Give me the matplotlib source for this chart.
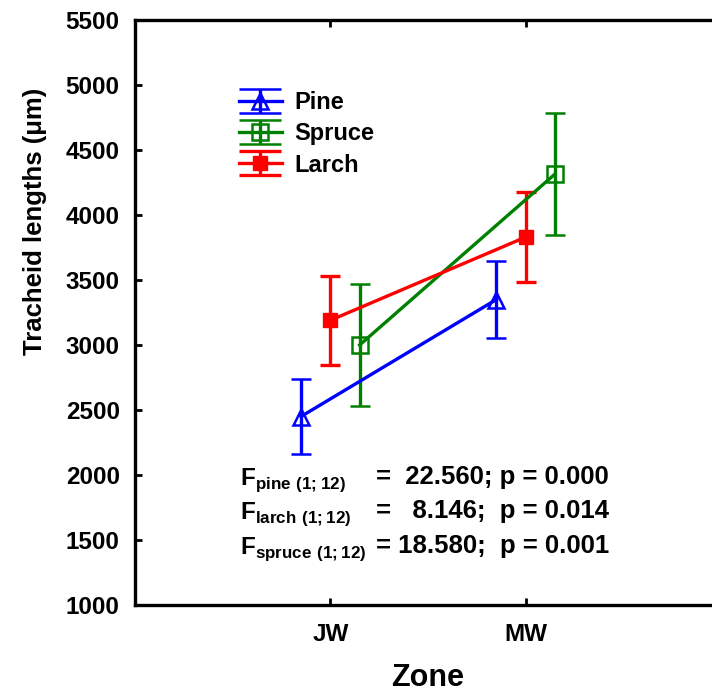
import matplotlib
matplotlib.use("Agg")
from matplotlib import pyplot as plt
from matplotlib.legend_handler import HandlerErrorbar
from matplotlib.lines import Line2D

plt.rcParams['font.family'] = ['Liberation Sans', 'DejaVu Sans']
plt.rcParams['font.weight'] = 'bold'
plt.rcParams['mathtext.fontset'] = 'custom'
plt.rcParams['mathtext.bf'] = 'Liberation Sans:bold'
plt.rcParams['mathtext.rm'] = 'Liberation Sans:bold'

# data
zones = ['JW', 'MW']
pine_mean = [2450, 3350]
pine_err = [290, 293]
larch_mean = [3190, 3830]
larch_err = [344, 344]
spruce_mean = [3000, 4315]
spruce_err = [467, 467]

stats_names = ['pine', 'larch', 'spruce']
stats_text = ['=  22.560; p = 0.000', '=   8.146;  p = 0.014', '= 18.580;  p = 0.001']


class WideCaps(HandlerErrorbar):
    # caps in the legend span the whole handle
    def create_artists(self, legend, orig_handle, xdescent, ydescent,
                       width, height, fontsize, trans):
        arts = super().create_artists(legend, orig_handle, xdescent, ydescent,
                                      width, height, fontsize, trans)
        for a in arts:
            if isinstance(a, Line2D) and a.get_marker() == '_':
                a.set_markersize(width)
        return arts


fig = plt.figure(figsize=(7.12, 6.96), dpi=100)
ax = fig.add_axes([135 / 712, 91 / 696, 586 / 712, 585 / 696])

x = [1, 2]
lw = 2.4
ax.errorbar([v - 0.15 for v in x], pine_mean, yerr=pine_err, color='#0000ff',
            marker='^', markersize=12, markerfacecolor='none', markeredgewidth=1.8,
            lw=lw, elinewidth=lw, capsize=7, capthick=lw, label='Pine')
ax.errorbar([v + 0.15 for v in x], spruce_mean, yerr=spruce_err, color='#008000',
            marker='s', markersize=11, markerfacecolor='none', markeredgewidth=1.8,
            lw=lw, elinewidth=lw, capsize=7, capthick=lw, label='Spruce')
ax.errorbar(x, larch_mean, yerr=larch_err, color='#ff0000',
            marker='s', markersize=10, lw=lw, elinewidth=lw, capsize=7,
            capthick=lw, label='Larch')

ax.set_xlim(0, 3)
ax.set_ylim(1000, 5500)
ax.set_yticks(range(1000, 5501, 500))
ax.set_xticks(x)
ax.set_xticklabels(zones)
ax.tick_params(axis='both', direction='in', width=2, length=5, labelsize=17.5,
               top=True)
ax.tick_params(axis='y', pad=11)
ax.tick_params(axis='x', pad=13, labelsize=17.5)
for s in ax.spines.values():
    s.set_linewidth(2.4)

ax.set_ylabel('Tracheid lengths (\u03bcm)', fontsize=18.5, fontweight='bold')
ax.yaxis.set_label_coords(-0.15, 0.656)
ax.set_xlabel('Zone', fontsize=22, fontweight='bold', labelpad=12)

leg = ax.legend(handler_map={type(ax.containers[0]): WideCaps(yerr_size=0.5)},
                loc='upper left', bbox_to_anchor=(239 / 712, 1 - 91 / 696),
                bbox_transform=fig.transFigure, frameon=False, fontsize=17,
                handlelength=1.8, handletextpad=0.55, labelspacing=0.35,
                borderpad=0, borderaxespad=0)

ys = [480, 514, 549]
for name, txt, yp in zip(stats_names, stats_text, ys):
    fig.text(240 / 712, 1 - yp / 696, r'$\mathbf{F}_{\mathbf{' + name + r'\ (1;12)}}$',
             fontsize=17.5, va='center', ha='left')
    fig.text(376 / 712, 1 - (yp - 3) / 696, txt, fontsize=18.5, va='center', ha='left',
             fontweight='bold')

plt.savefig('out.png', dpi=100)
